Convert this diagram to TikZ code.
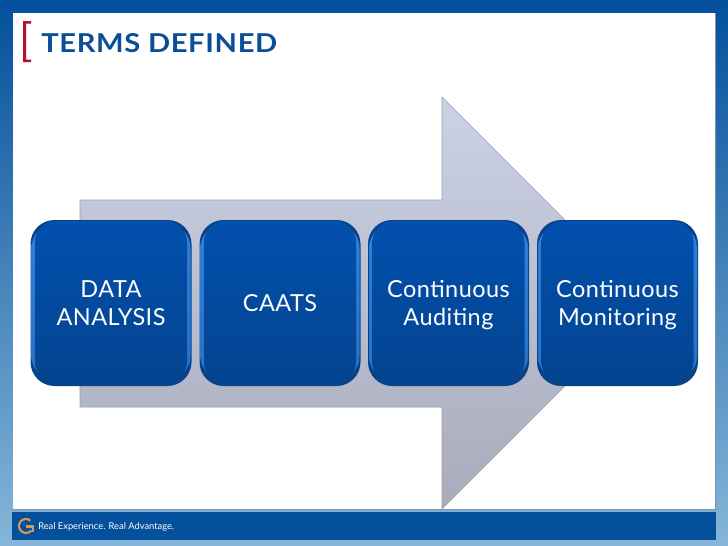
\documentclass[tikz,border=0pt]{standalone}
\usepackage{fontspec}
\setmainfont{Lato}
\newfontfamily\titlefont[FakeStretch=1.12,LetterSpace=2.5]{Lato}
\newfontfamily\labelfont[LetterSpace=2]{Lato}
\definecolor{barblue}{HTML}{04509C}
\definecolor{boxmid}{HTML}{0452AC}
\definecolor{boxtop}{HTML}{0350AE}
\definecolor{boxbot}{HTML}{03448F}
\definecolor{boxedge}{HTML}{0A4288}
\definecolor{boxlight}{HTML}{2F80DC}
\definecolor{bgtop}{HTML}{04509C}
\definecolor{bgbot}{HTML}{85B6D8}
\definecolor{arrowa}{HTML}{CBD2E4}
\definecolor{arrowb}{HTML}{A8ABBB}
\definecolor{arrowedge}{HTML}{9CA2B4}
\definecolor{titleblue}{HTML}{0A4E96}
\definecolor{brk}{HTML}{B5102F}
\definecolor{goldg}{HTML}{D9974F}
\definecolor{paneledge}{HTML}{7F93A8}
\tikzset{
  px/.style={x=0.75pt,y=-0.75pt},
  boxlabel/.style={text=white,align=center,font=\labelfont\fontsize{17.6pt}{20.6pt}\selectfont,inner sep=0pt},
}
\newcommand{\stagebox}[4]{%
  \fill[boxedge,rounded corners=18pt] (#1,220) rectangle ++(161,166);
  \shade[top color=boxlight,bottom color=boxlight!75!boxbot,rounded corners=17pt] (#1+1,225) rectangle ++(159,154);
  \shade[top color=boxtop,middle color=boxmid,bottom color=boxbot,rounded corners=16pt] (#1+4.5,221) rectangle ++(152,162);
  \node[boxlabel] (#2) at (#1+80.5,#4) {#3};
}
\begin{document}
\begin{tikzpicture}[px]
\useasboundingbox (0,0) rectangle (728,546);
\shade[top color=bgtop,bottom color=bgbot] (0,0) rectangle (728,546);
\fill[white] (13,13) rectangle (715,509);
\draw[paneledge,line width=0.5pt] (715,13) -- (715,509.5) -- (13,509.5);
\fill[barblue] (12,512) rectangle (716,540);
% arrow
\shade[top color=arrowa,bottom color=arrowb,draw=arrowedge,line width=0.4pt]
  (80,200) -- (442,200) -- (442,97) -- (648,303) -- (442,509) -- (442,407) -- (80,407) -- cycle;
% boxes
\stagebox{30.5}{a}{DATA\\ANALYSIS}{303}
\stagebox{199.5}{b}{CAATS}{303}
\stagebox{368}{c}{Continuous\\Auditing}{305}
\stagebox{537}{d}{Continuous\\Monitoring}{305}
% title
\node[anchor=west,inner sep=0pt,text=titleblue,font=\titlefont\bfseries\fontsize{19.5pt}{22pt}\selectfont] (title) at (41,43) {TERMS DEFINED};
\fill[brk] (23,21) -- (31,21) -- (31,23.5) -- (26,23.5) -- (26,59.5) -- (31,59.5) -- (31,62) -- (23,62) -- cycle;
% footer
\draw[goldg,line width=1.6pt] (30.5,520.6) arc[start angle=-50,end angle=-320,radius=7];
\draw[goldg,line width=1.6pt] (26,526.5) -- (33,526.5) -- (33,532);
\node[anchor=west,inner sep=0pt,text=white,font=\fontsize{7pt}{9pt}\selectfont] (foot) at (38,526.5) {Real Experience. Real Advantage.};
\end{tikzpicture}
\end{document}
